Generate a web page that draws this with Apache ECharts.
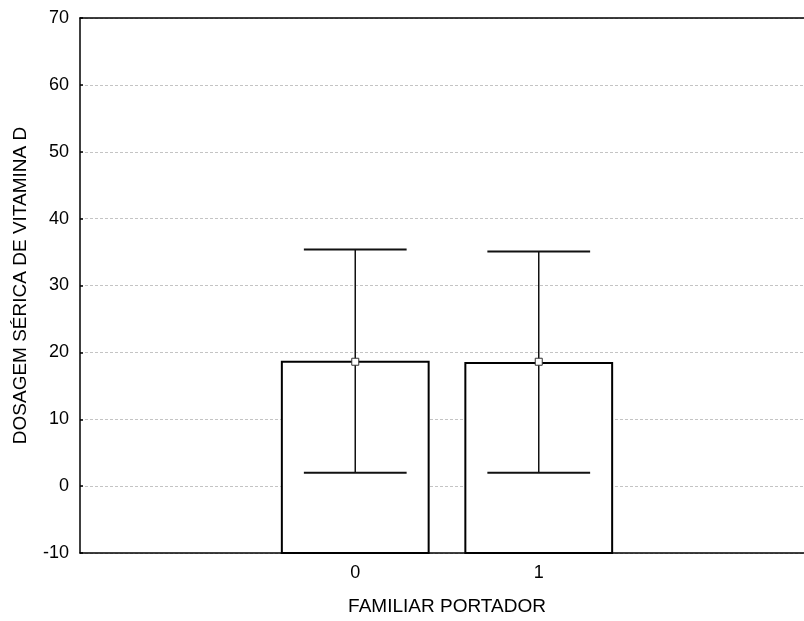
<!DOCTYPE html>
<html>
<head>
<meta charset="utf-8">
<script src="https://cdn.jsdelivr.net/npm/echarts@6/dist/echarts.min.js"></script>
<style>
html,body{margin:0;padding:0;background:#fff;overflow:hidden;width:804px;height:621px;}
#chart{width:814px;height:621px;}
</style>
</head>
<body>
<div id="chart"></div>
<script>
// Data
const categories = ['', '0', '1', ''];
const groups = ['0', '1'];
const boxTop = [18.6, 18.4];
const meanVals = [18.6, 18.6];
const lowVals = [2.0, 2.0];
const highVals = [35.4, 35.1];
const yTicks = [-10, 0, 10, 20, 30, 40, 50, 60, 70];

const FONT = '"Liberation Sans", Arial, sans-serif';
const seriesData = groups.map((g, i) => [g, boxTop[i], meanVals[i], lowVals[i], highVals[i]]);

const chart = echarts.init(document.getElementById('chart'));
chart.setOption({
  animation: false,
  backgroundColor: '#fff',
  grid: { left: 80, right: 0, top: 18, bottom: 66, containLabel: false },
  xAxis: [{
    type: 'category',
    data: categories,
    position: 'bottom',
    name: 'FAMILIAR PORTADOR',
    nameLocation: 'middle',
    nameGap: 44,
    nameTextStyle: { color: '#000', fontSize: 19, fontFamily: FONT },
    axisLine: { onZero: false, lineStyle: { color: '#000', width: 1.5 } },
    axisTick: { inside: true, length: 4, alignWithLabel: true, lineStyle: { color: '#000', width: 1.5 } },
    axisLabel: { color: '#000', fontSize: 18, fontFamily: FONT, margin: 11 },
    splitLine: { show: false }
  }, {
    type: 'category',
    data: categories,
    position: 'top',
    axisLine: { onZero: false, lineStyle: { color: '#000', width: 1.5 } },
    axisTick: { inside: true, length: 4, alignWithLabel: true, lineStyle: { color: '#000', width: 1.5 } },
    axisLabel: { show: false },
    splitLine: { show: false }
  }],
  yAxis: {
    type: 'value',
    min: yTicks[0],
    max: yTicks[yTicks.length - 1],
    interval: 10,
    name: 'DOSAGEM SÉRICA DE VITAMINA D',
    nameLocation: 'middle',
    nameGap: 50,
    nameTextStyle: { color: '#000', fontSize: 19, fontFamily: FONT },
    axisLine: { show: true, onZero: false, lineStyle: { color: '#000', width: 1.5 } },
    axisTick: { show: true, inside: true, length: 3, lineStyle: { color: '#000', width: 1.5 } },
    axisLabel: { color: '#000', fontSize: 18, fontFamily: FONT, margin: 11 },
    splitLine: { show: true, lineStyle: { color: '#c4c4c4', type: [3, 2], width: 1 } }
  },
  series: [{
    type: 'custom',
    xAxisIndex: 0,
    data: seriesData,
    renderItem: function (params, api) {
      const x = api.value(0);
      const top = api.value(1), mean = api.value(2), low = api.value(3), high = api.value(4);
      const unit = api.size([1, 0])[0];
      const bw = unit * 0.8, cw = unit * 0.56;
      const pBase = api.coord([x, yTicks[0]]);
      const pTop = api.coord([x, top]);
      const pMean = api.coord([x, mean]);
      const pLow = api.coord([x, low]);
      const pHigh = api.coord([x, high]);
      const cx = pTop[0];
      return {
        type: 'group',
        children: [
          { type: 'rect', shape: { x: cx - bw / 2, y: pTop[1], width: bw, height: pBase[1] - pTop[1] },
            style: { fill: '#fff', stroke: '#000', lineWidth: 2 } },
          { type: 'line', shape: { x1: cx, y1: pHigh[1], x2: cx, y2: pLow[1] },
            style: { stroke: '#111', lineWidth: 1.5 } },
          { type: 'line', shape: { x1: cx - cw / 2, y1: pHigh[1], x2: cx + cw / 2, y2: pHigh[1] },
            style: { stroke: '#111', lineWidth: 2 } },
          { type: 'line', shape: { x1: cx - cw / 2, y1: pLow[1], x2: cx + cw / 2, y2: pLow[1] },
            style: { stroke: '#111', lineWidth: 2 } },
          { type: 'rect', shape: { x: cx - 3.5, y: pMean[1] - 3.5, width: 7, height: 7 },
            style: { fill: '#fff', stroke: '#333', lineWidth: 1 } }
        ]
      };
    }
  }]
});
</script>
</body>
</html>
